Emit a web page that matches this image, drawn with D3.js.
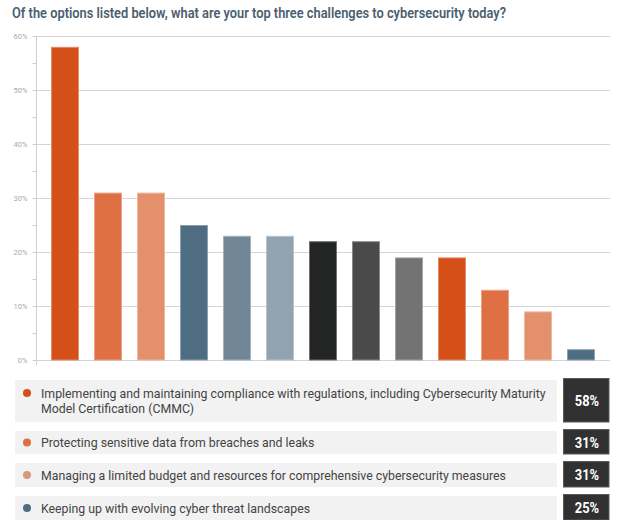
<!DOCTYPE html>
<html>
<head>
<meta charset="utf-8">
<script src="https://cdn.jsdelivr.net/npm/d3@7"></script>
<style>
  html, body { margin: 0; padding: 0; background: #fff; }
  svg { display: block; }
</style>
</head>
<body>
<svg id="chart" width="634" height="520"></svg>
<script>
const title = "Of the options listed below, what are your top three challenges to cybersecurity today?";
const values = [58, 31, 31, 25, 23, 23, 22, 22, 19, 19, 13, 9, 2];
const barColors = ["#d54f19", "#de7043", "#e5906c", "#4f6d82", "#718797", "#91a3b0",
                   "#232524", "#4a4a4a", "#727372", "#d54f19", "#de7043", "#e5906c", "#4f6d82"];
const yTicks = [0, 10, 20, 30, 40, 50, 60];
const yTickLabels = ["0%", "10%", "20%", "30%", "40%", "50%", "60%"];
const legendLabels = [
  "Implementing and maintaining compliance with regulations, including Cybersecurity Maturity Model Certification (CMMC)",
  "Protecting sensitive data from breaches and leaks",
  "Managing a limited budget and resources for comprehensive cybersecurity measures",
  "Keeping up with evolving cyber threat landscapes"
];
const legendValues = [58, 31, 31, 25];
const legendDotColors = ["#d54f19", "#de7043", "#d9987a", "#4f6d82"];

const svg = d3.select("#chart");
const font = "Roboto, 'Noto Sans', sans-serif";

// condense helper: squeeze text horizontally to emulate a condensed face
function condense(sel, k) {
  sel.each(function () {
    const w = this.getComputedTextLength();
    d3.select(this).attr("textLength", w * k).attr("lengthAdjust", "spacingAndGlyphs");
  });
}

svg.append("text")
  .attr("x", 12).attr("y", 18)
  .attr("font-family", font).attr("font-size", 14.5).attr("font-weight", 600)
  .attr("fill", "#4b6070")
  .text(title)
  .call(condense, 0.885);

const x = d3.scaleBand().domain(d3.range(values.length)).range([36, 610])
  .paddingInner(0.35).paddingOuter(0.35);
const y = d3.scaleLinear().domain([0, 60]).range([360, 36]);

// gridlines
svg.append("g").selectAll("line").data(yTicks).join("line")
  .attr("x1", 36).attr("x2", 610)
  .attr("y1", d => y(d) + 0.5).attr("y2", d => y(d) + 0.5)
  .attr("stroke", "#d4d4d4").attr("stroke-width", 1);

// y axis
const yAxis = d3.axisLeft(y).tickValues(d3.range(0, 61, 5)).tickSize(4)
  .tickFormat(d => { const i = yTicks.indexOf(d); return i >= 0 ? yTickLabels[i] : ""; });
const ga = svg.append("g").attr("transform", "translate(36.5,0)").call(yAxis);
ga.select(".domain").attr("d", `M0,${y(60)}V365`).attr("stroke", "#cfcfcf");
ga.selectAll(".tick line").attr("stroke", "#cfcfcf");
ga.selectAll(".tick text").attr("x", -9).attr("font-family", font).attr("font-size", 7.5)
  .attr("fill", "#aaaaaa");

// bars
svg.append("g").selectAll("rect").data(values).join("rect")
  .attr("x", (d, i) => x(i) + 0.5).attr("width", x.bandwidth() - 1)
  .attr("y", d => y(d) + 0.5).attr("height", d => y(0) - y(d) - 0.5)
  .attr("fill", (d, i) => barColors[i])
  .attr("stroke", (d, i) => d3.interpolateRgb(barColors[i], "#ffffff")(0.35))
  .attr("stroke-width", 1);

// legend
const rowTops = [379, 430, 462, 495];
const rowHeights = [43, 24, 25, 25];
const K = 0.947;
const lg = svg.append("g");
legendLabels.forEach((label, i) => {
  const g = lg.append("g");
  const top = rowTops[i], h = rowHeights[i];
  g.append("rect").attr("x", 15).attr("y", top + 1).attr("width", 542).attr("height", h - 1).attr("fill", "#f2f2f2");
  g.append("rect").attr("x", 563.5).attr("y", top - 0.5).attr("width", 45.5).attr("height", h + 0.5)
    .attr("fill", "#313131").attr("stroke", "#5a5a5a").attr("stroke-width", 1);
  g.append("circle").attr("cx", 27).attr("cy", i === 0 ? top + 14 : top + h / 2 + 0.5).attr("r", 4)
    .attr("fill", legendDotColors[i]);
  const t = g.append("text").attr("font-family", font).attr("font-size", 13).attr("fill", "#444");
  const words = label.split(" ");
  const maxW = 515;
  let lines = [], cur = [];
  const probe = g.append("text").attr("font-family", font).attr("font-size", 13);
  words.forEach(w => {
    const test = cur.concat([w]).join(" ");
    probe.text(test);
    if (probe.node().getComputedTextLength() * K > maxW && cur.length) { lines.push(cur.join(" ")); cur = [w]; }
    else cur.push(w);
  });
  lines.push(cur.join(" "));
  probe.remove();
  const firstBase = lines.length > 1 ? top + 19 : top + h / 2 + 5;
  lines.forEach((ln, k) => {
    t.append("tspan").attr("x", 41).attr("y", firstBase + k * 15).text(ln).call(condense, K);
  });
  g.append("text").attr("x", 587).attr("y", top + h / 2 + 5.5)
    .attr("text-anchor", "middle").attr("font-family", font).attr("font-size", 14)
    .attr("font-weight", 700).attr("fill", "#ffffff").text(legendValues[i] + "%")
    .call(condense, 0.92);
});
</script>
</body>
</html>
